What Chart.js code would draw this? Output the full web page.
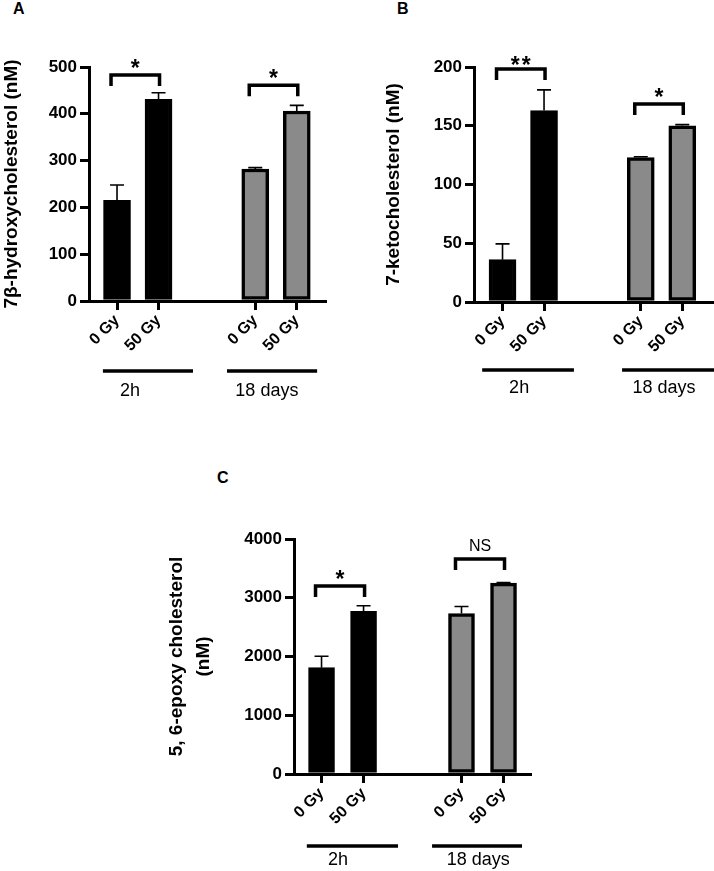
<!DOCTYPE html>
<html>
<head>
<meta charset="utf-8">
<script src="https://cdn.jsdelivr.net/npm/chart.js@4"></script>
<style>
  html, body { margin: 0; padding: 0; background: #fff; }
  #wrap { position: relative; width: 714px; height: 871px; overflow: hidden; font-family: "Liberation Sans", Arial, sans-serif; }
  canvas { position: absolute; }
  .tag { position: absolute; font-weight: bold; font-size: 16px; line-height: 1; color: #000; }
</style>
</head>
<body>
<div id="wrap">
  <div class="tag" style="left:13px;top:1px">A</div>
  <div class="tag" style="left:397px;top:1px">B</div>
  <div class="tag" style="left:217px;top:470px">C</div>
  <canvas id="chartA" width="357" height="420" style="left:0;top:0"></canvas>
  <canvas id="chartB" width="357" height="420" style="left:357px;top:0"></canvas>
  <canvas id="chartC" width="400" height="411" style="left:150px;top:460px"></canvas>
</div>
<script>
// categories
const doseLabels = ['0 Gy', '50 Gy', '0 Gy', '50 Gy'];
const groupLabels = ['2h', '18 days'];

// A: 7β-hydroxycholesterol (nM), mean and upper error
const hydroxyMeans = [215, 431, 282, 406];
const hydroxyErrors = [33, 14, 3, 12];
const hydroxySig = ['*', '*'];

// B: 7-ketocholesterol (nM)
const ketoMeans = [36, 163, 123, 150];
const ketoErrors = [13.5, 17.5, 0.6, 1];
const ketoSig = ['**', '*'];

// C: 5, 6-epoxy cholesterol (nM)
const epoxyMeans = [1810, 2770, 2730, 3250];
const epoxyErrors = [195, 95, 120, 10];
const epoxySig = ['*', 'NS'];

// x slot of each bar (second group sits further right)
const barSlots = [0, 1, 3.33, 4.33];
const barColors = ['#000000', '#000000', '#8a8a8a', '#8a8a8a'];
const FONT = '"Liberation Sans", Arial, sans-serif';

const annotate = {
  id: 'annotate',
  afterDatasetsDraw(chart, args, o) {
    const ctx = chart.ctx;
    const xs = chart.scales.x, ys = chart.scales.y;
    ctx.save();
    ctx.strokeStyle = '#000';
    ctx.fillStyle = '#000';

    // error bars, upward only
    ctx.lineWidth = 1.6;
    o.means.forEach((m, i) => {
      const px = xs.getPixelForValue(barSlots[i]);
      const y0 = ys.getPixelForValue(m);
      const y1 = ys.getPixelForValue(m + o.errors[i]);
      ctx.beginPath();
      ctx.moveTo(px, y0);
      ctx.lineTo(px, y1);
      ctx.moveTo(px - 7, y1);
      ctx.lineTo(px + 7, y1);
      ctx.stroke();
    });

    // significance brackets
    ctx.lineWidth = 3.5;
    ctx.lineJoin = 'miter';
    ctx.textAlign = 'center';
    o.sig.forEach((s, k) => {
      const x1 = xs.getPixelForValue(barSlots[2 * k]) - 6;
      const x2 = xs.getPixelForValue(barSlots[2 * k + 1]) + 1;
      const yt = ys.getPixelForValue(o.bracketY[k]);
      ctx.beginPath();
      ctx.moveTo(x1, yt + 11);
      ctx.lineTo(x1, yt);
      ctx.lineTo(x2, yt);
      ctx.lineTo(x2, yt + 11);
      ctx.stroke();
      ctx.textBaseline = 'alphabetic';
      if (s === 'NS') {
        ctx.font = '16px ' + FONT;
        ctx.fillText(s, (x1 + x2) / 2, yt - 8);
      } else {
        ctx.font = 'bold 23px ' + FONT;
        ctx.letterSpacing = s.length > 1 ? '2px' : '0px';
        ctx.fillText(s, (x1 + x2) / 2 + (s.length > 1 ? 1 : 0), yt + o.starDy[k]);
        ctx.letterSpacing = '0px';
      }
    });

    // group lines and labels under the axis
    ctx.lineWidth = 3.5;
    ctx.font = '18px ' + FONT;
    ctx.textBaseline = 'middle';
    groupLabels.forEach((g, k) => {
      const [a, b] = o.groupLine[k];
      ctx.beginPath();
      ctx.moveTo(xs.getPixelForValue(a), o.lineY);
      ctx.lineTo(xs.getPixelForValue(b), o.lineY);
      ctx.stroke();
      ctx.fillText(g, xs.getPixelForValue(o.groupText[k]), o.textY);
    });
    ctx.restore();
  }
};

function makePanel(id, p) {
  const data = p.means.map((v, i) => ({ x: barSlots[i], y: v }));
  return new Chart(document.getElementById(id), {
    type: 'bar',
    data: {
      datasets: [{
        data: data,
        backgroundColor: barColors,
        borderColor: '#000',
        borderWidth: 3.5,
        borderSkipped: false,
        barThickness: p.barWidth
      }]
    },
    options: {
      responsive: false,
      animation: false,
      layout: { padding: { left: 0, right: p.padRight, top: p.padTop, bottom: 0 } },
      plugins: {
        legend: { display: false },
        tooltip: { enabled: false },
        annotate: p
      },
      scales: {
        x: {
          type: 'linear',
          offset: false,
          min: p.xMin,
          max: p.xMax,
          afterBuildTicks: (s) => { s.ticks = barSlots.map(v => ({ value: v })); },
          afterFit: (s) => { s.height = p.xHeight; },
          ticks: {
            autoSkip: false,
            minRotation: 45,
            maxRotation: 45,
            padding: 1,
            color: '#000',
            font: { family: FONT, size: 16, weight: 'bold' },
            callback: (v, i) => doseLabels[i]
          },
          grid: { offset: false, drawOnChartArea: false, drawTicks: true, tickLength: 9, lineWidth: 3, color: '#000' },
          border: { display: true, color: '#000', width: 3 }
        },
        y: {
          min: 0,
          max: p.yMax,
          afterFit: (s) => { s.width = p.yWidth; },
          ticks: {
            stepSize: p.yStep,
            padding: 3,
            color: '#000',
            font: { family: FONT, size: 17, weight: 'bold' },
            callback: (v) => String(v)
          },
          grid: { drawOnChartArea: false, drawTicks: true, tickLength: 9, lineWidth: 3, color: '#000' },
          border: { display: true, color: '#000', width: 3 },
          title: {
            display: true,
            text: p.title,
            color: '#000',
            font: { family: FONT, size: 19, weight: 'bold', lineHeight: p.titleLH },
            padding: { top: p.titlePad, bottom: 0 }
          }
        }
      }
    },
    plugins: [annotate]
  });
}

makePanel('chartA', {
  means: hydroxyMeans, errors: hydroxyErrors, sig: hydroxySig,
  title: '7β-hydroxycholesterol (nM)', titleLH: 1.2, titlePad: 0,
  yMax: 500, yStep: 100,
  bracketY: [483, 461], starDy: [1, 1],
  padTop: 67, padRight: 32, yWidth: 89, xHeight: 119,
  xMin: -0.675, xMax: 5.01, barWidth: 27,
  groupLine: [[-0.34, 1.83], [2.65, 4.82]], groupText: [0.31, 3.61],
  lineY: 371, textY: 391
});

makePanel('chartB', {
  means: ketoMeans, errors: ketoErrors, sig: ketoSig,
  title: '7-ketocholesterol (nM)', titleLH: 1.2, titlePad: 25.6,
  yMax: 200, yStep: 50,
  bracketY: [198.3, 168.5], starDy: [4, 1],
  padTop: 67, padRight: 1, yWidth: 117, xHeight: 118,
  xMin: -0.687, xMax: 5.07, barWidth: 27,
  groupLine: [[-0.49, 1.72], [2.88, 5.2]], groupText: [0.40, 3.89],
  lineY: 370, textY: 388
});

makePanel('chartC', {
  means: epoxyMeans, errors: epoxyErrors, sig: epoxySig,
  title: ['5, 6-epoxy cholesterol', '(nM)'], titleLH: 1.42, titlePad: 13.5,
  yMax: 4000, yStep: 1000,
  bracketY: [3200, 3660], starDy: [1, 1],
  padTop: 79, padRight: 20, yWidth: 144, xHeight: 97,
  xMin: -0.655, xMax: 4.96, barWidth: 26,
  groupLine: [[-0.35, 1.82], [2.63, 4.77]], groupText: [0.39, 3.73],
  lineY: 386, textY: 400
});
</script>
</body>
</html>
